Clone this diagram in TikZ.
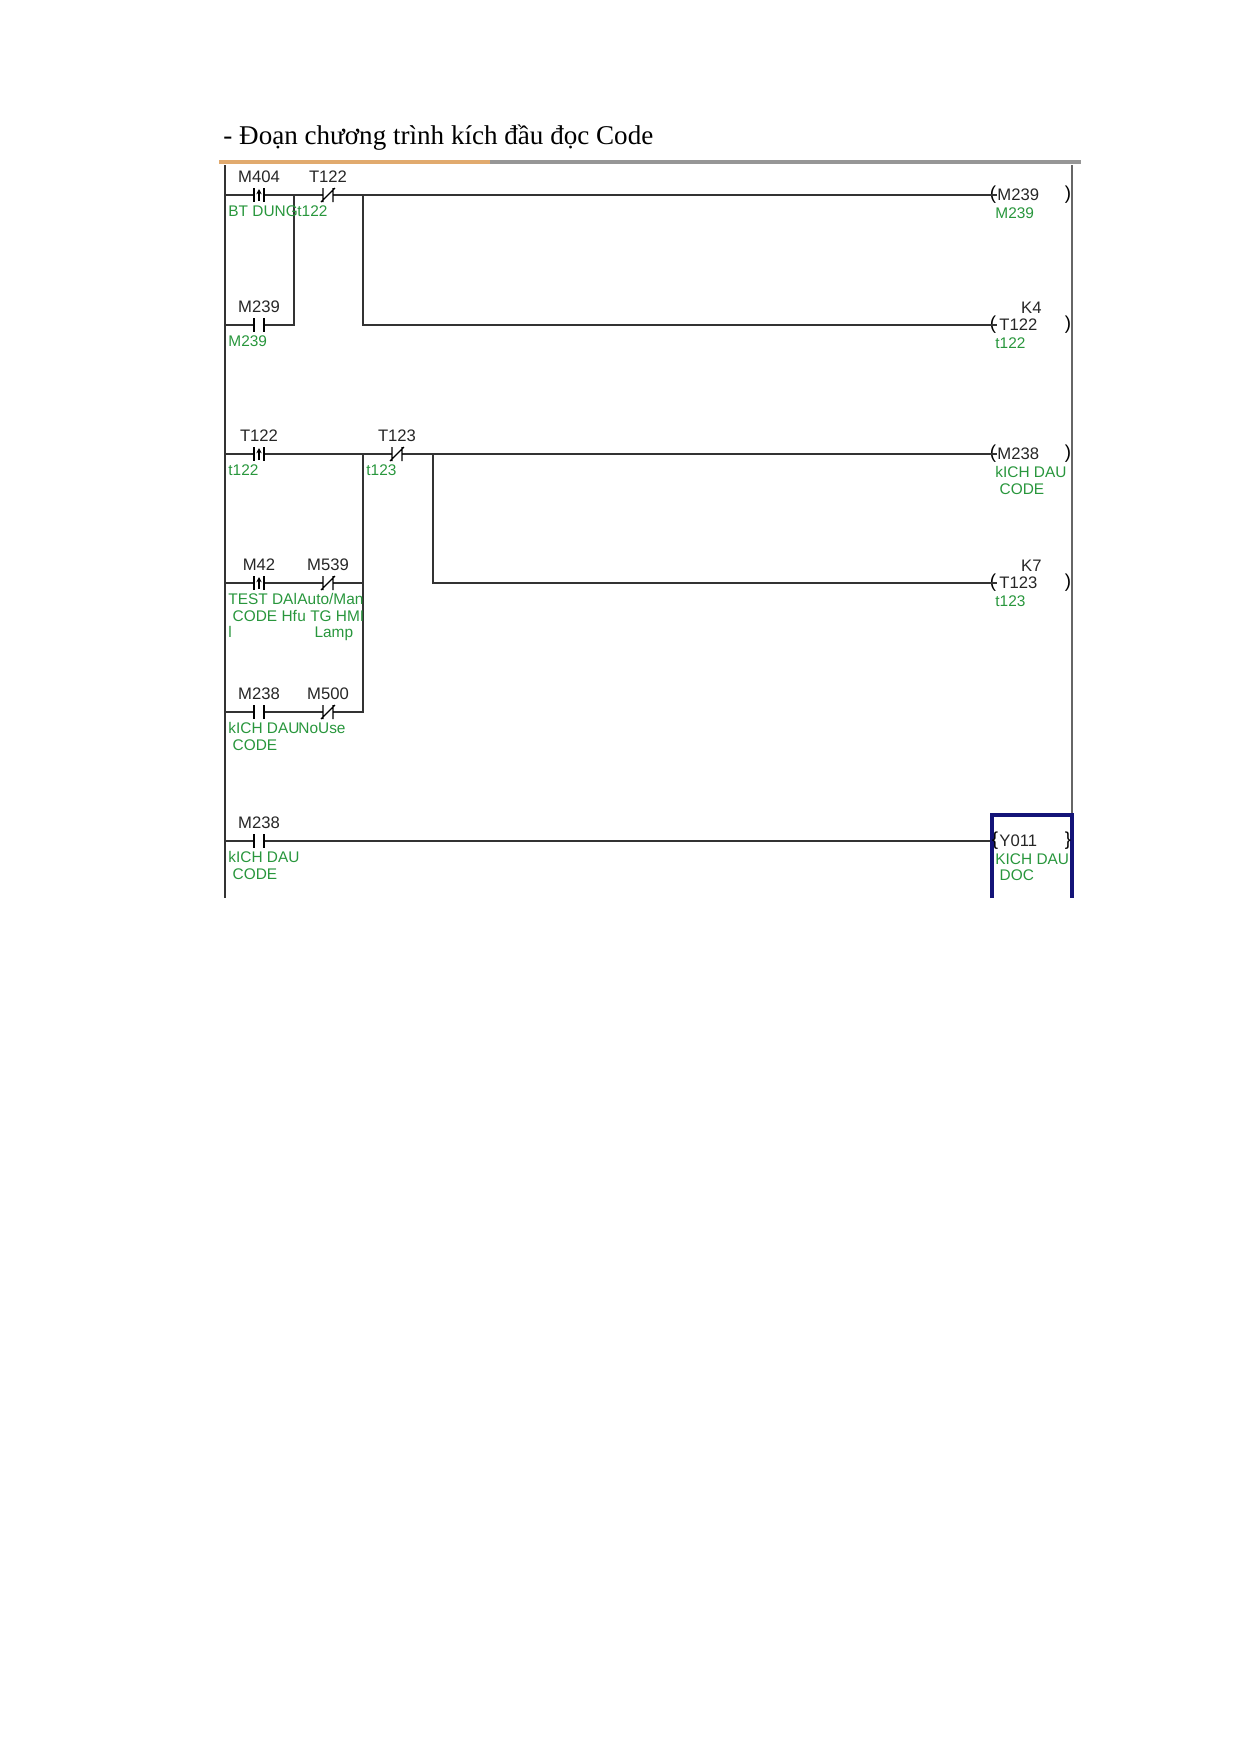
\documentclass[tikz,border=0pt]{standalone}
\usepackage{fontspec}
\setmainfont{Liberation Serif}
\newfontfamily\ladder{Liberation Sans}
\definecolor{cmtgreen}{RGB}{40,150,60}
\definecolor{barorange}{RGB}{225,170,110}
\definecolor{bargray}{RGB}{150,150,150}
\definecolor{boxnavy}{RGB}{20,20,120}
\tikzset{
  wire/.style={draw=black!80,line width=0.6pt},
  dev/.style={font=\ladder\fontsize{8}{9}\selectfont,text=black!85,inner sep=0pt,anchor=base},
  cmt/.style={font=\ladder\fontsize{7.4}{7.9}\selectfont,text=cmtgreen,inner sep=0pt,anchor=north west,align=left},
  coilpar/.style={font=\ladder\fontsize{9}{9}\selectfont,inner sep=0pt},
  pics/no/.style={code={
    \fill[white] (-5,-7) rectangle (5,7);
    \draw[line width=0.6pt] (-5,-7) -- (-5,7) (5,-7) -- (5,7);}},
  pics/nc/.style={code={
    \fill[white] (-5,-7) rectangle (5,7);
    \draw[line width=0.6pt] (-5,-7) -- (-5,7) (5,-7) -- (5,7) (-7,7) -- (7,-7);}},
  pics/pls/.style={code={
    \fill[white] (-5,-7) rectangle (5,7);
    \draw[line width=0.6pt] (-5,-7) -- (-5,7) (5,-7) -- (5,7);
    \draw[line width=0.5pt,-{Stealth[length=2.5pt,width=2.5pt]}] (0,6) -- (0,-6);}}
}
\usetikzlibrary{arrows.meta}
\begin{document}
\begin{tikzpicture}[x=0.48pt,y=-0.48pt]
\useasboundingbox (0,0) rectangle (1240,1754);

\node[font=\fontsize{13}{15}\selectfont,anchor=base west,inner sep=0pt] (title) at (223,144) {- Đoạn chương trình kích đầu đọc Code};

% top bar
\draw[bargray,line width=1.5pt] (219,162) -- (1081,162);
\draw[barorange,line width=1.5pt] (219,162) -- (490,162);

% rails
\coordinate (lt) at (225,165); \coordinate (lb) at (225,898);
\coordinate (rt) at (1072,165); \coordinate (rb) at (1072,898);
\draw[wire] (lt) -- (lb);
\draw[wire,black!60] (rt) -- (rb);

% rung 1 / 2
\coordinate (r1) at (225,195); \coordinate (r2) at (225,325);
\coordinate (j1t) at (294,195); \coordinate (j1b) at (294,325);
\coordinate (j2t) at (363,195); \coordinate (j2b) at (363,325);
\node[coilpar] (c1) at (993,195) {(}; \node[coilpar] (c1r) at (1068,195) {)};
\node[coilpar] (c2) at (993,325) {(}; \node[coilpar] (c2r) at (1068,325) {)};
\draw[wire] (r1) -- (c1.east);
\draw[wire] (r2) -- (j1b) -- (j1t);
\draw[wire] (j2t) -- (j2b) -- (c2.east);
\pic at (259,195) {pls}; \pic at (328,195) {nc}; \pic at (259,325) {no};
\node[dev] (m404) at (259,182) {M404};
\node[dev] (t122a) at (328,182) {T122};
\node[dev] (m239a) at (259,312) {M239};
\node[cmt] (c404) at (228,205) {BT DUNG};
\node[cmt] (ct122a) at (297,205) {t122};
\node[cmt] (c239a) at (228,335) {M239};
\node[dev,anchor=base west] (o239) at (997,200) {M239};
\node[cmt] (co239) at (995,207) {M239};
\node[dev,anchor=base east] (k4) at (1042,313) {K4};
\node[dev,anchor=base west] (o122) at (999,330) {T122};
\node[cmt] (co122) at (995,337) {t122};

% rung 3 / 4 / 5
\coordinate (r3) at (225,454); \coordinate (r4) at (225,583); \coordinate (r5) at (225,712);
\coordinate (j3t) at (363,454); \coordinate (j3b) at (363,712); \coordinate (j3m) at (363,583);
\coordinate (j4t) at (433,454); \coordinate (j4b) at (433,583);
\node[coilpar] (c3) at (993,454) {(}; \node[coilpar] (c3r) at (1068,454) {)};
\node[coilpar] (c4) at (993,583) {(}; \node[coilpar] (c4r) at (1068,583) {)};
\draw[wire] (r3) -- (c3.east);
\draw[wire] (r4) -- (j3m);
\draw[wire] (r5) -- (j3b) -- (j3t);
\draw[wire] (j4t) -- (j4b) -- (c4.east);
\pic at (259,454) {pls}; \pic at (397,454) {nc};
\pic at (259,583) {pls}; \pic at (328,583) {nc};
\pic at (259,712) {no}; \pic at (328,712) {nc};
\node[dev] (t122b) at (259,441) {T122};
\node[dev] (t123a) at (397,441) {T123};
\node[dev] (m42) at (259,570) {M42};
\node[dev] (m539) at (328,570) {M539};
\node[dev] (m238a) at (259,699) {M238};
\node[dev] (m500) at (328,699) {M500};
\node[cmt] (ct122b) at (228,464) {t122};
\node[cmt] (ct123a) at (366,464) {t123};
\node[cmt] (c42) at (228,593) {TEST DAl\\\ CODE Hf\\l};
\node[cmt] (c539) at (297,593) {Auto/Man\\u TG HMI\\\ \ \ \ Lamp};
\node[cmt] (c238a) at (228,722) {kICH DAU\\\ CODE};
\node[cmt] (c500) at (298,722) {NoUse};
\node[dev,anchor=base west] (o238) at (997,459) {M238};
\node[cmt] (co238) at (995,466) {kICH DAU\\\ CODE};
\node[dev,anchor=base east] (k7) at (1042,571) {K7};
\node[dev,anchor=base west] (o123) at (999,588) {T123};
\node[cmt] (co123) at (995,595) {t123};

% rung 6
\coordinate (r6) at (225,841);
\coordinate (bx) at (992,841);
\draw[wire] (r6) -- (bx);
\pic at (259,841) {no};
\node[dev] (m238b) at (259,828) {M238};
\node[cmt] (c238b) at (228,851) {kICH DAU\\\ CODE};
\draw[boxnavy,line width=1.8pt] (992,898) -- (992,815) -- (1072,815) -- (1072,898);
\node[coilpar] (c5) at (995,841) {\{}; \node[coilpar] (c5r) at (1068,841) {\}};
\node[dev,anchor=base west] (y011) at (999,846) {Y011};
\node[cmt] (cy011) at (995,853) {KICH DAU\\\ DOC};
\end{tikzpicture}
\end{document}
